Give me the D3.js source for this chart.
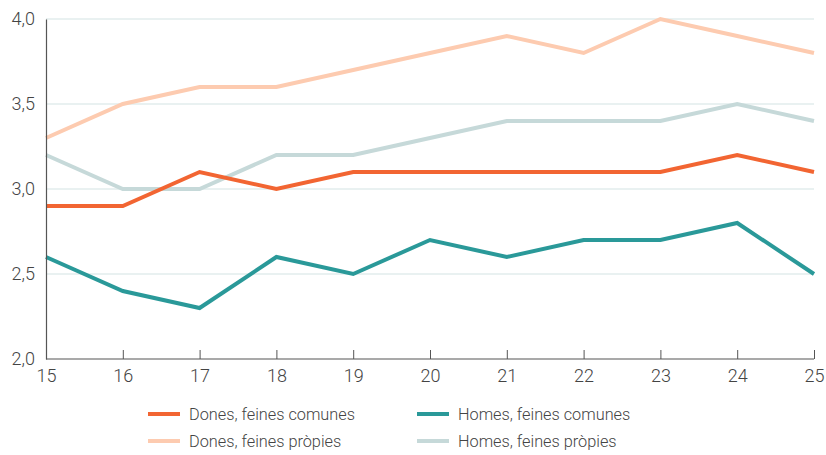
<!DOCTYPE html>
<html><head><meta charset="utf-8">
<script src="https://cdn.jsdelivr.net/npm/d3@7"></script>
<style>body{margin:0;background:#fff}svg{display:block;font-family:Roboto,"Liberation Sans",Arial,sans-serif}</style>
</head><body><svg id="c" width="826" height="455"></svg>
<script>
const years = [15,16,17,18,19,20,21,22,23,24,25];
const yTicks = [2.0,2.5,3.0,3.5,4.0];
const donesComunes = [2.9,2.9,3.1,3.0,3.1,3.1,3.1,3.1,3.1,3.2,3.1];
const homesComunes = [2.6,2.4,2.3,2.6,2.5,2.7,2.6,2.7,2.7,2.8,2.5];
const donesPropies = [3.3,3.5,3.6,3.6,3.7,3.8,3.9,3.8,4.0,3.9,3.8];
const homesPropies = [3.2,3.0,3.0,3.2,3.2,3.3,3.4,3.4,3.4,3.5,3.4];
const seriesNames = ["Dones, feines comunes","Homes, feines comunes","Dones, feines pròpies","Homes, feines pròpies"];
const seriesColors = ["#f26532","#2a9999","#fdcbb0","#c6d9d9"];
const seriesData = [donesComunes,homesComunes,donesPropies,homesPropies];

const svg = d3.select("#c");
const x = d3.scaleLinear().domain([15,25]).range([46,814]);
const y = d3.scaleLinear().domain([2,4]).range([359,19]);
const FS = 16.3, TXT = "#444", FF = "Roboto, Liberation Sans, Arial, sans-serif", FW = 300;

// grid
svg.append("g").selectAll("line").data(yTicks.filter(d=>d>2)).join("line")
  .attr("x1",x(15)).attr("x2",x(25)).attr("y1",d=>y(d)).attr("y2",d=>y(d))
  .attr("stroke","#d3e3e3").attr("stroke-width",1);

// lines (draw light ones first)
const order = [2,3,0,1];
const line = d3.line().x((d,i)=>x(years[i])).y(d=>y(d));
order.forEach(k=>{
  svg.append("path").datum(seriesData[k]).attr("d",line)
    .attr("fill","none").attr("stroke",seriesColors[k]).attr("stroke-width",4)
    .attr("stroke-linejoin","miter");
});

// y axis
const ya = svg.append("g").attr("transform",`translate(${x(15)},0)`)
  .call(d3.axisLeft(y).tickValues(yTicks).tickSize(0).tickPadding(11)
  .tickFormat(d=>d3.format(".1f")(d).replace(".",",")));
ya.select(".domain").attr("stroke","#555").attr("stroke-width",1.2);
ya.selectAll("text").attr("font-size",18).attr("fill",TXT).attr("font-family",FF).attr("font-weight",FW);

// x axis
const xa = svg.append("g").attr("transform",`translate(0,${y(2)})`)
  .call(d3.axisBottom(x).tickValues(years).tickSize(-9).tickPadding(6).tickFormat(d3.format("d")));
xa.select(".domain").attr("stroke","#555").attr("stroke-width",1.2).attr("d",`M${x(15)},0H${x(25)}`);
xa.selectAll(".tick line").attr("stroke","#555");
xa.selectAll("text").attr("font-size",18).attr("fill",TXT).attr("dy","0.71em").attr("font-family",FF).attr("font-weight",FW);
xa.selectAll(".tick text").attr("y",10);

// legend
const legPos = [[148,414],[417,414],[148,441],[417,441]];
seriesNames.forEach((n,k)=>{
  const [lx,ly]=legPos[k];
  svg.append("line").attr("x1",lx).attr("x2",lx+32).attr("y1",ly).attr("y2",ly)
    .attr("stroke",seriesColors[k]).attr("stroke-width",4);
  svg.append("text").attr("x",lx+41).attr("y",ly).attr("dy","0.35em")
    .attr("font-size",FS).attr("fill",TXT).attr("font-weight",FW).attr("font-family",FF).text(n);
});
</script></body></html>
